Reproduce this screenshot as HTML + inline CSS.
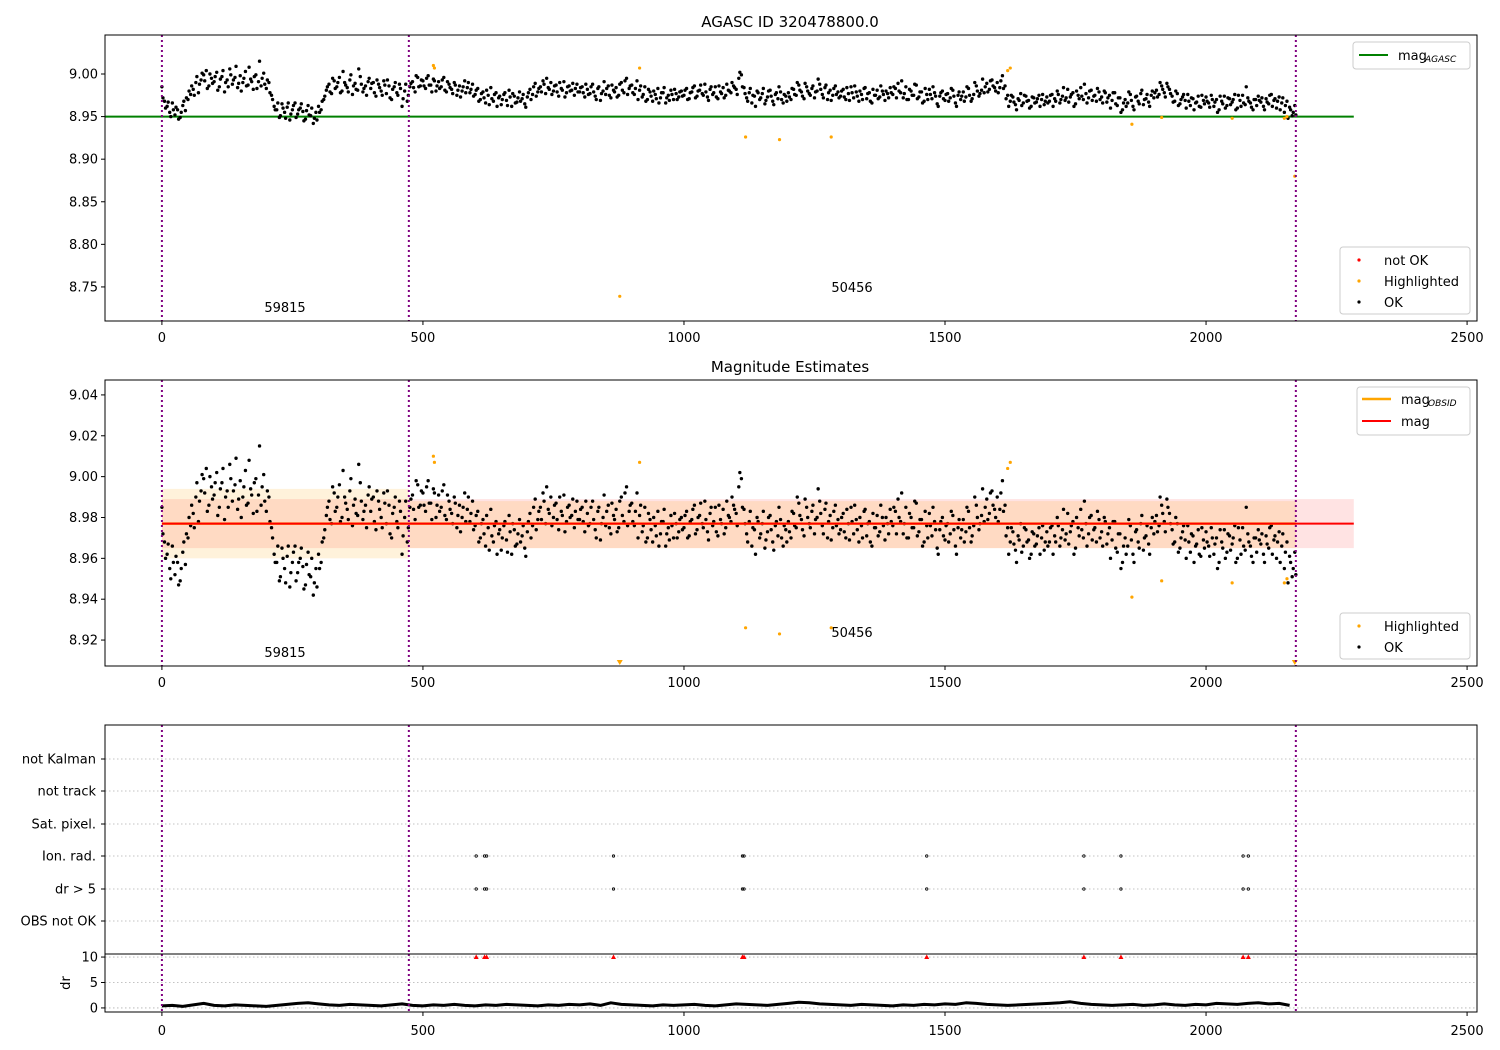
<!DOCTYPE html>
<html><head><meta charset="utf-8">
<style>
html,body{margin:0;padding:0;background:#fff;}
svg{display:block;font-family:"DejaVu Sans","Liberation Sans",sans-serif;}
</style></head>
<body>
<svg id="chart" width="1500" height="1050" viewBox="0 0 1500 1050" xmlns="http://www.w3.org/2000/svg"></svg>
<script>
// ---------- data ----------
const magStep = 5;
const mags = [
8.985,8.968,8.962,8.955,8.966,8.952,8.958,8.949,8.963,8.957,8.970,8.976,8.982,8.990,8.978,8.993,8.999,9.004,8.986,8.995,
8.991,9.002,8.985,8.997,8.979,8.993,9.006,8.988,8.996,8.984,8.998,8.990,9.003,8.987,8.994,8.982,8.999,8.991,8.986,9.001,
8.983,8.990,8.975,8.962,8.958,8.949,8.965,8.955,8.961,8.946,8.958,8.966,8.953,8.960,8.956,8.947,8.963,8.951,8.942,8.955,
8.962,8.958,8.970,8.981,8.988,8.977,8.992,8.985,8.996,8.980,8.990,8.984,8.993,8.976,8.989,8.981,8.997,8.979,8.986,8.991,
8.983,8.990,8.974,8.988,8.980,8.992,8.977,8.986,8.970,8.985,8.978,8.988,8.962,8.980,8.968,8.985,8.991,8.979,8.996,8.986,
8.992,8.983,8.998,8.987,8.994,8.980,8.991,8.985,8.996,8.979,8.988,8.982,8.990,8.975,8.986,8.980,8.992,8.984,8.978,8.988,
8.976,8.983,8.970,8.979,8.966,8.975,8.984,8.968,8.978,8.972,8.964,8.976,8.969,8.981,8.962,8.974,8.967,8.979,8.971,8.965,
8.973,8.982,8.976,8.989,8.979,8.985,8.992,8.977,8.984,8.990,8.980,8.987,8.974,8.983,8.991,8.978,8.986,8.981,8.975,8.988,
8.979,8.985,8.973,8.982,8.977,8.988,8.974,8.983,8.969,8.980,8.976,8.986,8.972,8.981,8.984,8.975,8.990,8.978,8.995,8.983,
8.987,8.976,8.992,8.981,8.973,8.985,8.970,8.979,8.968,8.976,8.983,8.972,8.978,8.966,8.975,8.981,8.970,8.977,8.973,8.980,
8.975,8.983,8.971,8.979,8.986,8.974,8.981,8.977,8.988,8.973,8.982,8.976,8.985,8.971,8.979,8.984,8.975,8.981,8.978,8.986,
8.982,8.995,8.999,8.984,8.972,8.978,8.966,8.974,8.980,8.970,8.977,8.965,8.973,8.981,8.968,8.976,8.971,8.979,8.966,8.974,
8.978,8.970,8.982,8.975,8.987,8.979,8.971,8.985,8.977,8.983,8.972,8.980,8.988,8.976,8.984,8.970,8.981,8.975,8.986,8.979,
8.974,8.982,8.970,8.977,8.985,8.972,8.979,8.968,8.976,8.983,8.971,8.978,8.966,8.975,8.981,8.973,8.980,8.969,8.977,8.984,
8.976,8.983,8.989,8.978,8.972,8.985,8.970,8.980,8.975,8.987,8.973,8.979,8.968,8.976,8.982,8.971,8.978,8.965,8.974,8.980,
8.969,8.977,8.972,8.981,8.966,8.975,8.970,8.979,8.973,8.983,8.968,8.976,8.986,8.974,8.981,8.978,8.989,8.982,8.993,8.984,
8.990,8.984,8.998,8.986,8.975,8.968,8.973,8.964,8.971,8.977,8.966,8.974,8.969,8.962,8.972,8.967,8.975,8.970,8.964,8.973,
8.968,8.976,8.971,8.980,8.966,8.974,8.969,8.982,8.973,8.978,8.965,8.975,8.984,8.970,8.977,8.972,8.981,8.974,8.968,8.979,
8.973,8.980,8.967,8.975,8.969,8.978,8.963,8.972,8.958,8.970,8.966,8.976,8.962,8.973,8.968,8.977,8.964,8.971,8.967,8.975,
8.972,8.981,8.976,8.986,8.978,8.989,8.982,8.974,8.968,8.977,8.965,8.973,8.969,8.976,8.963,8.971,8.966,8.974,8.961,8.969,
8.973,8.966,8.975,8.962,8.970,8.958,8.968,8.974,8.963,8.971,8.967,8.976,8.960,8.969,8.975,8.964,8.972,8.966,8.958,8.970,
8.974,8.967,8.962,8.971,8.965,8.976,8.969,8.960,8.973,8.966,8.955,8.968,8.961,8.951,8.963];
// second set of observations, interleaved between the first (offset by magOffsetB)
const magOffsetB = 2;
const magsB = [
8.972,8.960,8.967,8.950,8.958,8.961,8.947,8.955,8.968,8.972,8.980,8.986,8.975,8.997,8.988,9.001,8.992,8.983,9.000,8.989,
8.997,8.981,8.994,9.004,8.990,8.985,8.999,8.993,9.009,8.989,8.980,8.995,8.986,9.008,8.991,8.997,8.983,9.015,8.995,8.988,
8.993,8.978,8.970,8.958,8.966,8.951,8.960,8.948,8.966,8.953,8.963,8.949,8.958,8.965,8.945,8.957,8.952,8.960,8.948,8.946,
8.955,8.968,8.974,8.985,8.979,8.995,8.983,8.990,8.978,9.003,8.987,8.979,8.999,8.986,8.982,9.006,8.988,8.983,8.975,8.995,
8.989,8.978,8.993,8.984,8.975,8.987,8.993,8.972,8.982,8.990,8.975,8.983,8.971,8.988,8.975,8.989,8.984,8.998,8.985,8.993,
8.986,8.995,8.987,8.979,8.992,8.986,8.983,8.993,8.981,8.991,8.984,8.977,8.987,8.981,8.973,8.985,8.978,8.990,8.982,8.974,
8.981,8.968,8.977,8.972,8.981,8.964,8.971,8.976,8.962,8.974,8.970,8.978,8.963,8.973,8.977,8.966,8.972,8.968,8.976,8.961,
8.978,8.970,8.985,8.974,8.983,8.979,8.988,8.995,8.982,8.976,8.986,8.979,8.990,8.981,8.973,8.985,8.980,8.989,8.983,8.979,
8.984,8.978,8.988,8.976,8.985,8.979,8.970,8.985,8.977,8.991,8.983,8.975,8.987,8.979,8.973,8.988,8.981,8.992,8.976,8.986,
8.978,8.983,8.970,8.986,8.976,8.968,8.982,8.974,8.980,8.971,8.966,8.978,8.984,8.972,8.969,8.976,8.982,8.970,8.979,8.974,
8.981,8.970,8.978,8.984,8.972,8.980,8.987,8.975,8.979,8.969,8.985,8.978,8.973,8.986,8.977,8.972,8.988,8.980,8.990,8.984,
8.976,9.002,8.985,8.977,8.968,8.983,8.975,8.962,8.978,8.972,8.983,8.969,8.980,8.974,8.964,8.978,8.985,8.970,8.976,8.968,
8.973,8.983,8.976,8.990,8.981,8.974,8.989,8.980,8.975,8.986,8.979,8.994,8.982,8.972,8.987,8.978,8.969,8.983,8.976,8.972,
8.980,8.973,8.984,8.969,8.978,8.986,8.974,8.980,8.970,8.984,8.977,8.968,8.982,8.975,8.971,8.986,8.976,8.980,8.972,8.978,
8.985,8.972,8.980,8.992,8.977,8.970,8.982,8.975,8.988,8.971,8.979,8.966,8.983,8.970,8.976,8.985,8.974,8.962,8.978,8.971,
8.976,8.968,8.983,8.974,8.962,8.979,8.974,8.968,8.985,8.975,8.971,8.990,8.980,8.977,8.994,8.985,8.979,8.992,8.986,8.980,
8.978,8.992,8.983,8.971,8.962,8.975,8.967,8.958,8.969,8.963,8.975,8.968,8.960,8.973,8.966,8.971,8.962,8.976,8.968,8.966,
8.975,8.962,8.968,8.976,8.970,8.984,8.972,8.967,8.976,8.962,8.980,8.971,8.974,8.988,8.966,8.980,8.969,8.975,8.983,8.970,
8.966,8.978,8.972,8.960,8.978,8.965,8.972,8.955,8.966,8.962,8.979,8.969,8.958,8.974,8.965,8.981,8.970,8.976,8.962,8.980,
8.978,8.973,8.990,8.982,8.973,8.985,8.977,8.967,8.980,8.963,8.970,8.976,8.960,8.968,8.972,8.958,8.967,8.962,8.975,8.965,
8.968,8.961,8.970,8.967,8.955,8.974,8.965,8.960,8.972,8.964,8.970,8.958,8.975,8.962,8.966,8.985,8.968,8.961,8.970,8.963,
8.969,8.972,8.958,8.967,8.975,8.962,8.971,8.968,8.958,8.972,8.963,8.948,8.958,8.955,8.952];
const hiIdx = [520,522,877,915,1118,1183,1282,1620,1625,1858,1915,2050,2150,2155,2170];
const hiMag = [9.010,9.007,8.739,9.007,8.926,8.923,8.926,9.004,9.007,8.941,8.949,8.948,8.948,8.950,8.880];
const obsStart = [0,473];
const obsEnd = [473,2172];
const obsMag = [8.977,8.977];
const obsLow = [8.960,8.965];
const obsHigh = [8.994,8.988];
const obsIds = ["59815","50456"];
const agascMag = 8.95;
const magMean = 8.977, magLow = 8.965, magHigh = 8.989;
const flagCats = ["OBS not OK","dr > 5","Ion. rad.","Sat. pixel.","not track","not Kalman"];
const flagIdx = [602,618,622,865,1112,1115,1465,1766,1837,2071,2081];
const drStep = 20;
const drVals = [0.4,0.5,0.3,0.6,0.9,0.5,0.4,0.6,0.5,0.4,0.3,0.5,0.7,0.9,1.0,0.8,0.6,0.5,0.7,0.6,0.5,0.4,0.6,0.8,0.5,0.4,0.6,0.5,0.7,0.5,0.4,0.6,0.5,0.7,0.6,0.5,0.4,0.6,0.5,0.7,0.6,0.8,0.5,1.0,0.7,0.6,0.5,0.4,0.6,0.5,0.6,0.7,0.5,0.4,0.6,0.8,0.7,0.6,0.5,0.7,0.9,1.1,1.0,0.8,0.7,0.6,0.5,0.7,0.6,0.5,0.4,0.6,0.5,0.7,0.6,0.8,0.7,1.0,0.9,0.7,0.6,0.5,0.6,0.7,0.8,0.9,1.0,1.2,0.9,0.7,0.6,0.5,0.6,0.7,0.5,0.6,0.8,0.6,0.5,0.7,0.6,0.9,0.8,0.7,0.9,1.0,0.8,0.9,0.5];
const drFlagVal = 10;
const xTicks = [0,500,1000,1500,2000,2500];
const y1Ticks = [8.75,8.80,8.85,8.90,8.95,9.00];
const y2Ticks = [8.92,8.94,8.96,8.98,9.00,9.02,9.04];
const drTicks = [0,5,10];
const vlines = [0,473,2172];

// ---------- helpers ----------
const NS = "http://www.w3.org/2000/svg";
const svg = document.getElementById("chart");
function mk(tag, attrs, parent) {
  const e = document.createElementNS(NS, tag);
  for (const k in attrs) e.setAttribute(k, attrs[k]);
  (parent || svg).appendChild(e);
  return e;
}
function txt(x, y, s, size, anchor, parent) {
  const t = mk("text", {x:x, y:y, "font-size":size, "text-anchor":anchor||"middle", fill:"#000"}, parent);
  t.textContent = s;
  return t;
}
const PL = 105, PR = 1477;
const xMin = -109, xMax = 2519;
function X(v){ return PL + (v - xMin) / (xMax - xMin) * (PR - PL); }
function linY(top, bot, vmax, vmin){ return v => top + (vmax - v) / (vmax - vmin) * (bot - top); }

const Y1 = linY(35, 321, 9.0458, 8.710);
const Y2 = linY(380, 666, 9.0473, 8.9073);
const Y3 = function(i){ return [921,889,856,824,791,759][i]; };
const Y4 = linY(954, 1012, 10.6, -0.8);

function frame(top, bot, name){
  mk("rect",{x:PL,y:top,width:PR-PL,height:bot-top,fill:"none",stroke:"#000","stroke-width":1});
}
function xAxis(top, bot, labelY, name){
  const g = mk("g",{});
  
  
  xTicks.forEach(t=>{
    mk("line",{x1:X(t),x2:X(t),y1:bot,y2:bot+4,stroke:"#000"},g);
    txt(X(t), labelY, String(t), 13, "middle", g);
  });
}
function yAxis(ticks, Y, fmt, name){
  const g = mk("g",{});
  
  
  ticks.forEach(t=>{
    mk("line",{x1:PL-4,x2:PL,y1:Y(t),y2:Y(t),stroke:"#000"},g);
    txt(PL-7, Y(t)+4.5, fmt(t), 13, "end", g);
  });
}
function vLines(top, bot, name){
  const g = mk("g",{});
  
  
  vlines.forEach(v=> mk("line",{x1:X(v),x2:X(v),y1:top,y2:bot,stroke:"#800080","stroke-width":2,"stroke-dasharray":"2,3"},g));
}
function okPoints(g, Y){
  mags.forEach((m,i)=>{
    const c = mk("circle",{cx:X(i*magStep),cy:Y(m),r:1.7,fill:"#000"},g);
    
    
  });
  magsB.forEach((m,i)=>{
    const c = mk("circle",{cx:X(i*magStep+magOffsetB),cy:Y(m),r:1.7,fill:"#000"},g);
    
    
  });
}

// ---------- titles ----------
const t1 = txt(790, 27, "AGASC ID 320478800.0", 15);


const t2 = txt(790, 372, "Magnitude Estimates", 15);



// ---------- panel 1 ----------
(function(){
  const top=35, bot=321;
  const clip = mk("clipPath",{id:"c1"});
  mk("rect",{x:PL,y:top,width:PR-PL,height:bot-top},clip);
  const g = mk("g",{"clip-path":"url(#c1)"});
  
  
  const al = mk("line",{x1:PL,x2:X(2283),y1:Y1(agascMag),y2:Y1(agascMag),stroke:"#008000","stroke-width":2},g);
  
  
  okPoints(g, Y1);
  hiIdx.forEach((ix,i)=>{
    const c = mk("circle",{cx:X(ix),cy:Y1(hiMag[i]),r:1.6,fill:"#ffa500"},g);
    
    
  });
  vLines(top,bot,"obsid-boundaries-1");
  const a = txt(285, 312, obsIds[0], 13); 
  const b = txt(852, 292, obsIds[1], 13); 
  frame(top,bot,"agasc-panel-frame");
  xAxis(top,bot,342,"x-axis-1");
  yAxis(y1Ticks, Y1, v=>v.toFixed(2), "y-axis-1");
  const lg = mk("g",{});
  
  
  mk("rect",{x:1353,y:42,width:117,height:27,rx:3,fill:"#fff",stroke:"#ccc"},lg);
  mk("line",{x1:1359,x2:1388,y1:55,y2:55,stroke:"#008000","stroke-width":2},lg);
  txt(1398,60,"mag",13,"start",lg);
  txt(1425,62,"AGASC",9,"start",lg).setAttribute("font-style","italic");
  const lb = mk("g",{});
  
  
  mk("rect",{x:1340,y:247,width:130,height:67,rx:3,fill:"#fff",stroke:"#ccc"},lb);
  [["#ff0000","not OK",260],["#ffa500","Highlighted",281],["#000","OK",302]].forEach(r=>{
    mk("circle",{cx:1359,cy:r[2],r:1.6,fill:r[0]},lb);
    txt(1384,r[2]+5,r[1],13,"start",lb);
  });
})();

// ---------- panel 2 ----------
(function(){
  const top=380, bot=666;
  const clip = mk("clipPath",{id:"c2"});
  mk("rect",{x:PL,y:top,width:PR-PL,height:bot-top},clip);
  const g = mk("g",{"clip-path":"url(#c2)"});
  
  
  const band = mk("rect",{x:X(0),y:Y2(magHigh),width:X(2283)-X(0),height:Y2(magLow)-Y2(magHigh),fill:"rgba(255,0,0,0.11)"},g);
  
  
  obsStart.forEach((s,i)=>{
    const r = mk("rect",{x:X(s),y:Y2(obsHigh[i]),width:X(obsEnd[i])-X(s),height:Y2(obsLow[i])-Y2(obsHigh[i]),fill:"rgba(255,165,0,0.14)"},g);
    
    
  });
  okPoints(g, Y2);
  obsStart.forEach((s,i)=>{
    const l = mk("line",{x1:X(s),x2:X(obsEnd[i]),y1:Y2(obsMag[i]),y2:Y2(obsMag[i]),stroke:"#ffa500","stroke-width":2.5},g);
    
    
  });
  const ml = mk("line",{x1:X(0),x2:X(2283),y1:Y2(magMean),y2:Y2(magMean),stroke:"#ff0000","stroke-width":2},g);
  
  
  const yminV = 8.9073;
  hiIdx.forEach((ix,i)=>{
    if (hiMag[i] < yminV) {
      const x = X(ix), y = Y2(yminV)-4;
      const p = mk("path",{d:`M${x-3},${y-2} L${x+3},${y-2} L${x},${y+3} Z`,fill:"#ffa500"},g);
      
      
    } else {
      const c = mk("circle",{cx:X(ix),cy:Y2(hiMag[i]),r:1.6,fill:"#ffa500"},g);
      
      
    }
  });
  vLines(top,bot,"obsid-boundaries-2");
  const a = txt(285, 657, obsIds[0], 13); 
  const b = txt(852, 637, obsIds[1], 13); 
  frame(top,bot,"magnitude-panel-frame");
  xAxis(top,bot,687,"x-axis-2");
  yAxis(y2Ticks, Y2, v=>v.toFixed(2), "y-axis-2");
  const lg = mk("g",{});
  
  
  mk("rect",{x:1357,y:387,width:113,height:48,rx:3,fill:"#fff",stroke:"#ccc"},lg);
  mk("line",{x1:1362,x2:1391,y1:399,y2:399,stroke:"#ffa500","stroke-width":2.5},lg);
  txt(1401,404,"mag",13,"start",lg);
  txt(1428,406,"OBSID",9,"start",lg).setAttribute("font-style","italic");
  mk("line",{x1:1362,x2:1391,y1:421,y2:421,stroke:"#ff0000","stroke-width":2},lg);
  txt(1401,426,"mag",13,"start",lg);
  const lb = mk("g",{});
  
  
  mk("rect",{x:1340,y:613,width:130,height:46,rx:3,fill:"#fff",stroke:"#ccc"},lb);
  [["#ffa500","Highlighted",626],["#000","OK",647]].forEach(r=>{
    mk("circle",{cx:1359,cy:r[2],r:1.6,fill:r[0]},lb);
    txt(1384,r[2]+5,r[1],13,"start",lb);
  });
})();

// ---------- panel 3: flags ----------
(function(){
  const top=725, bot=954;
  const g = mk("g",{});
  
  
  flagCats.forEach((c,i)=>{
    mk("line",{x1:PL,x2:PR,y1:Y3(i),y2:Y3(i),stroke:"#b0b0b0","stroke-width":0.8,"stroke-dasharray":"1.5,2.5"},g);
    mk("line",{x1:PL-4,x2:PL,y1:Y3(i),y2:Y3(i),stroke:"#000"},g);
    const t = txt(PL-9, Y3(i)+4.5, c, 13, "end", g);
    
    
  });
  [1,2].forEach(row=>{
    flagIdx.forEach(ix=>{
      const c = mk("circle",{cx:X(ix),cy:Y3(row),r:1.2,fill:"none",stroke:"#000","stroke-width":0.8},g);
      
      
    });
  });
  vLines(top,bot,"obsid-boundaries-3");
  frame(top,bot,"flags-panel-frame");
})();

// ---------- panel 4: dr ----------
(function(){
  const top=954, bot=1012;
  const g = mk("g",{});
  
  
  drTicks.forEach(t=>{
    mk("line",{x1:PL,x2:PR,y1:Y4(t),y2:Y4(t),stroke:"#b0b0b0","stroke-width":0.8,"stroke-dasharray":"1.5,2.5"},g);
  });
  const pts = drVals.map((v,i)=>`${X(i*drStep).toFixed(1)},${Y4(v).toFixed(1)}`).join(" ");
  const pl = mk("polyline",{points:pts,fill:"none",stroke:"#000","stroke-width":3,"stroke-linejoin":"round"},g);
  
  
  flagIdx.forEach(ix=>{
    const x = X(ix), y = Y4(drFlagVal);
    const p = mk("path",{d:`M${x-2.5},${y+2} L${x+2.5},${y+2} L${x},${y-2.5} Z`,fill:"#ff0000"},g);
    
    
  });
  vLines(top,bot,"obsid-boundaries-4");
  frame(top,bot,"dr-panel-frame");
  xAxis(top,bot,1035,"x-axis-4");
  yAxis(drTicks, Y4, v=>String(v), "y-axis-dr");
  const yl = txt(70, 983, "dr", 13);
  yl.setAttribute("transform","rotate(-90 70 983)");
  
  
})();
</script>
</body></html>
